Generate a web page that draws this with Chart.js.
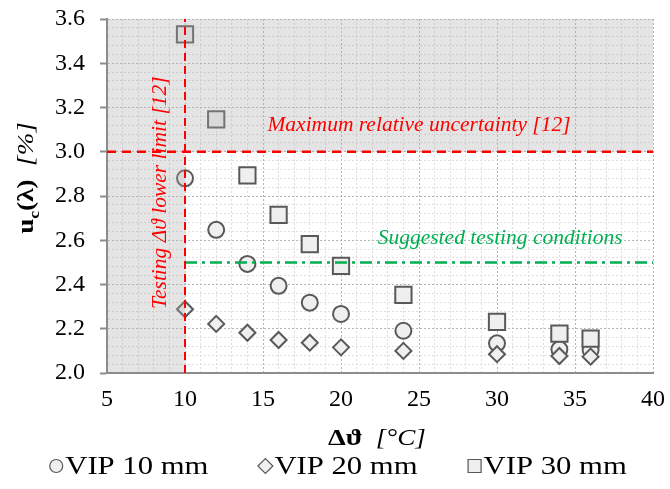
<!DOCTYPE html>
<html><head><meta charset="utf-8">
<script src="https://cdn.jsdelivr.net/npm/chart.js@4.4.0/dist/chart.umd.min.js"></script>
<style>html,body{margin:0;padding:0;background:#fff;}#wrap{width:670px;height:489px;position:relative;}</style>
</head><body><div id="wrap"><canvas id="c" width="670" height="489"></canvas></div>
<script>
// ---- data ----
const deltaT = [10, 12, 14, 16, 18, 20, 24, 30, 34, 36];
const vip10 = [2.880, 2.647, 2.493, 2.394, 2.318, 2.267, 2.191, 2.134, 2.107, 2.104];
const vip20 = [2.288, 2.222, 2.182, 2.149, 2.137, 2.116, 2.100, 2.085, 2.077, 2.074];
const vip30 = [3.531, 3.146, 2.893, 2.715, 2.582, 2.484, 2.353, 2.231, 2.178, 2.155];
const seriesLabels = ['VIP 10 mm', 'VIP 20 mm', 'VIP 30 mm'];
const xTicks = [5, 10, 15, 20, 25, 30, 35, 40];
const yTicks = [2.0, 2.2, 2.4, 2.6, 2.8, 3.0, 3.2, 3.4, 3.6];
const maxUncertainty = 3.0;       // [%]
const lowerLimitDeltaT = 10;      // [°C]
const suggestedUncertainty = 2.5; // [%]
const refLabels = ['Maximum relative uncertainty [12]', 'Suggested testing conditions', 'Testing \u0394\u03D1 lower limit [12]'];

// ---- styles ----
const SERIF = '"Liberation Serif", serif';
const STRETCH = 1.18;
const edge = '#595959', fill = '#efefef';
const isMajorY = v => yTicks.some(t => Math.abs(t - v) < 1e-6);
const isMajorX = v => xTicks.some(t => Math.abs(t - v) < 1e-6);
const pts = arr => deltaT.map((x, i) => ({x, y: arr[i]}));

function stretchedText(ctx, text, x, y, font, align, k) {
  k = k || STRETCH;
  ctx.save();
  ctx.font = font;
  const w = ctx.measureText(text).width * k;
  let x0 = x;
  if (align === 'center') x0 = x - w / 2;
  else if (align === 'right') x0 = x - w;
  ctx.translate(x0, y);
  ctx.scale(k, 1);
  ctx.textAlign = 'left';
  ctx.fillText(text, 0, 0);
  ctx.restore();
  return w;
}
function measure(ctx, text, font, k) { k = k || STRETCH; ctx.save(); ctx.font = font; const w = ctx.measureText(text).width * k; ctx.restore(); return w; }

function drawMarker(ctx, style, x, y, r, lw) {
  ctx.save();
  ctx.beginPath();
  if (style === 'circle') ctx.arc(x, y, r, 0, Math.PI * 2);
  else if (style === 'rectRot') { ctx.moveTo(x - r, y); ctx.lineTo(x, y - r); ctx.lineTo(x + r, y); ctx.lineTo(x, y + r); ctx.closePath(); }
  else ctx.rect(x - r, y - r, 2 * r, 2 * r);
  ctx.fillStyle = fill; ctx.fill();
  ctx.lineWidth = lw; ctx.strokeStyle = edge; ctx.stroke();
  ctx.restore();
}

function drawOverlay(chart) {
  const {ctx, chartArea: a, scales: {x, y}} = chart;
  const px = x.getPixelForValue(lowerLimitDeltaT);
  const py = y.getPixelForValue(maxUncertainty);
  ctx.save();
  ctx.fillStyle = 'rgba(170,170,170,0.32)';
  ctx.fillRect(a.left + 1, a.top, px - a.left - 1, a.bottom - a.top - 1);
  ctx.fillRect(px, a.top, a.right - px, py - a.top);
  ctx.restore();
}

const annotations = [
  {text: refLabels[0], x: 25.0, y: 3.12, color: '#ff0000', rot: 0},
  {text: refLabels[1], x: 30.2, y: 2.61, color: '#00b050', rot: 0},
  {text: refLabels[2], x: 8.45, y: 2.815, color: '#ff0000', rot: -Math.PI / 2}
];

const plugin = {
  id: 'custom',
  beforeDraw(chart) { chart.$overlayDone = false; },
  beforeDatasetDraw(chart, args) {
    const ds = chart.data.datasets[args.index];
    if (ds.isRef && !chart.$overlayDone) { drawOverlay(chart); chart.$overlayDone = true; }
  },
  afterDatasetsDraw(chart) {
    if (!chart.$overlayDone) { drawOverlay(chart); chart.$overlayDone = true; }
    const {ctx, scales: {x, y}} = chart;
    const font = 'italic 21.5px ' + SERIF;
    annotations.forEach(an => {
      ctx.save();
      ctx.fillStyle = an.color;
      ctx.textBaseline = 'middle';
      ctx.translate(x.getPixelForValue(an.x), y.getPixelForValue(an.y));
      ctx.rotate(an.rot);
      stretchedText(ctx, an.text, 0, 0, font, 'center', 1);
      ctx.restore();
    });
  },
  afterDraw(chart) {
    const {ctx} = chart;
    ctx.save();
    ctx.fillStyle = '#000';
    ctx.textBaseline = 'alphabetic';
    // x title
    const fB = 'bold 24px ' + SERIF, fI = 'italic 23px ' + SERIF;
    const t1 = '\u0394\u03D1', t2 = '[\u00B0C]';
    const w1 = measure(ctx, t1, fB), gap = 13;
    const sx = 328, base = 445;
    stretchedText(ctx, t1, sx, base, fB, 'left');
    stretchedText(ctx, t2, sx + w1 + gap, base, fI, 'left');
    // y title (rotated)
    ctx.save();
    ctx.translate(33, 178);
    ctx.rotate(-Math.PI / 2);
    const fYB = 'bold 23px ' + SERIF, fYI = 'italic 23px ' + SERIF;
    const fSub = 'bold 15px ' + SERIF;
    const parts = [['u', fYB, 0], ['c', fSub, 6], ['(\u03BB)', fYB, 0], ['  ', fYB, 0], ['[%]', fYI, 0]];
    const tot = parts.reduce((s, p) => s + measure(ctx, p[0], p[1]), 0);
    let cx = -tot / 2;
    parts.forEach(p => { cx += stretchedText(ctx, p[0], cx, p[2], p[1], 'left'); });
    ctx.restore();
    // legend
    const fL = '26px ' + SERIF;
    const styles = ['circle', 'rectRot', 'rect'];
    const sizes = [6.5, 7.5, 6.5];
    const mW = 14, mGap = 2, itemGap = 50;
    const widths = seriesLabels.map(l => mW + mGap + measure(ctx, l, fL));
    const total = widths.reduce((s, w) => s + w, 0) + itemGap * (widths.length - 1);
    let lx = chart.width / 2 + 3 - total / 2;
    const ly = 466;
    seriesLabels.forEach((l, i) => {
      drawMarker(ctx, styles[i], lx + mW / 2, ly, sizes[i], 1.2);
      ctx.fillStyle = '#000';
      ctx.textBaseline = 'middle';
      stretchedText(ctx, l, lx + mW + mGap, ly + 1, fL, 'left');
      lx += widths[i] + itemGap;
    });
    ctx.restore();
  }
};

const ptStyle = (style, r) => ({pointStyle: style, pointRadius: r, pointHoverRadius: r, pointBackgroundColor: fill, pointBorderColor: edge, pointBorderWidth: 2, backgroundColor: fill, borderColor: edge, showLine: false});

new Chart(document.getElementById('c'), {
  type: 'scatter',
  data: {
    datasets: [
      {label: 'ref-limit', isRef: true, type: 'line', data: [{x: 5, y: maxUncertainty}, {x: 40, y: maxUncertainty}], borderColor: '#ff0000', borderWidth: 2.5, borderDash: [9, 6], pointRadius: 0, showLine: true, order: 0},
      {label: 'ref-dT', isRef: true, type: 'line', data: [{x: lowerLimitDeltaT, y: 2.0}, {x: lowerLimitDeltaT, y: 3.6}], borderColor: '#ff0000', borderWidth: 2, borderDash: [8, 5], pointRadius: 0, showLine: true, order: 0},
      {label: 'ref-suggested', isRef: true, type: 'line', data: [{x: lowerLimitDeltaT, y: suggestedUncertainty}, {x: 40, y: suggestedUncertainty}], borderColor: '#00b050', borderWidth: 2.5, borderDash: [12, 5, 3, 5], pointRadius: 0, showLine: true, order: 0},
      Object.assign({label: seriesLabels[2], data: pts(vip30), order: 1}, ptStyle('rect', 11.5)),
      Object.assign({label: seriesLabels[1], data: pts(vip20), order: 2}, ptStyle('rectRot', 8)),
      Object.assign({label: seriesLabels[0], data: pts(vip10), order: 3}, ptStyle('circle', 8))
    ]
  },
  options: {
    responsive: false,
    animation: false,
    events: [],
    layout: {padding: {left: 0, right: 17, top: 19, bottom: 0}},
    plugins: {legend: {display: false}, tooltip: {enabled: false}},
    scales: {
      x: {
        type: 'linear', min: 5, max: 40,
        afterFit: s => { s.height = 116; s.paddingRight = 0; s.paddingLeft = 0; },
        ticks: {stepSize: 1, autoSkip: false, maxRotation: 0, padding: 12, color: '#000', font: {family: SERIF, size: 24},
          callback: v => isMajorX(v) ? String(Math.round(v)) : ''},
        grid: {drawTicks: false, lineWidth: 1, color: c => (c.tick && isMajorX(c.tick.value)) ? '#b5b5b5' : '#dedede'},
        border: {display: true, color: '#8c8c8c', width: 2, dash: [2, 2]}
      },
      y: {
        type: 'linear', min: 2.0, max: 3.6,
        afterFit: s => { s.width = 107; s.paddingTop = 0; s.paddingBottom = 0; },
        ticks: {stepSize: 0.04, autoSkip: false, padding: 15, color: '#000', font: {family: SERIF, size: 24},
          callback: v => isMajorY(v) ? v.toFixed(1) : ''},
        grid: {drawTicks: true, tickLength: 7, tickWidth: 2, lineWidth: 1,
          tickColor: c => (c.tick && isMajorY(c.tick.value)) ? '#8c8c8c' : 'rgba(0,0,0,0)',
          tickBorderDash: [],
          color: c => (c.tick && isMajorY(c.tick.value)) ? '#b5b5b5' : '#dedede'},
        border: {display: true, color: '#8c8c8c', width: 2, dash: [2, 2]}
      }
    }
  },
  plugins: [plugin]
});
</script></body></html>
